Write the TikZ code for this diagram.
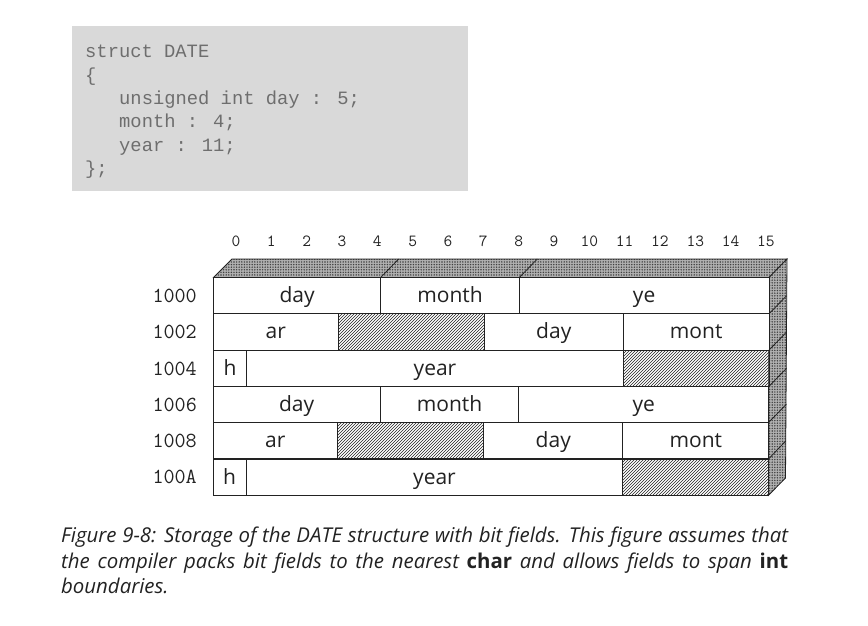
\documentclass[tikz,border=0pt]{standalone}
\usepackage{fontspec}
\setmainfont{Open Sans}
\usetikzlibrary{patterns,patterns.meta}

\definecolor{codebg}{HTML}{D9D9D9}
\definecolor{codefg}{HTML}{6E6E6E}
\definecolor{inkline}{HTML}{222222}
\definecolor{shadegray}{HTML}{B0B0B0}
\newfontfamily\codefont{Liberation Mono}

\begin{document}
\begin{tikzpicture}[x=1pt,y=-1pt,
                        codeline/.style={anchor=base west,inner sep=0pt,text=codefg,font=\codefont\fontsize{18.8}{19}\selectfont},
                        bitnum/.style={inner sep=0pt,text=inkline,font=\ttfamily\fontsize{17}{17}\selectfont},
                        addr/.style={anchor=base east,inner sep=0pt,text=inkline,font=\ttfamily\fontsize{21.5}{21.5}\selectfont},
                        cell/.style={draw=inkline,line width=0.8pt,anchor=north west,inner sep=0pt,outer sep=0pt,
                          fill=white,minimum height=36.3pt,text height=25pt,text depth=11.3pt,text=inkline,
                          font=\fontsize{21}{21}\selectfont},
                        unused/.style={cell,pattern=north east lines,pattern color=inkline},
                        shaded/.style={draw=inkline,line width=0.8pt,preaction={fill=shadegray},
                          pattern={Dots[distance=2.6pt,radius=0.8pt]},pattern color=black!75},
                        link/.style={draw=inkline,line width=0.8pt}]
      \useasboundingbox (0,0) rectangle (868,626);

      % the struct
      \node[fill=codebg,minimum width=396pt,minimum height=165pt,inner sep=0pt] (codebox) at (270,108.5) {};
      \node[codeline] (c1) at (85,58) {struct DATE};
      \node[codeline] (c2) at (85,81.3) {\{};
      \node[codeline] (c3) at (119,104.5) {unsigned int day : 5;};
      \node[codeline] (c4) at (119,128) {month : 4;};
      \node[codeline] (c5) at (119,151) {year : 11;};
      \node[codeline] (c6) at (85,174) {\};};

      % bit numbers
      \foreach \b in {0,...,15}
        \node[bitnum] (bit\b) at (236+\b*35.33,241) {\b};

      % addresses
      \node[addr] (a1) at (197,302) {1000};
      \node[addr] (a2) at (197,338) {1002};
      \node[addr] (a3) at (197,375) {1004};
      \node[addr] (a4) at (197,411) {1006};
      \node[addr] (a5) at (197,447) {1008};
      \node[addr] (a6) at (197,483) {100A};

      % faces of the block
      \coordinate (backl) at (232,259);
      \coordinate (backr) at (787,259);
      \coordinate (backb) at (785.5,478);
      \coordinate (frontl) at (213.5,277.5);
      \coordinate (frontr) at (769,277.5);
      \coordinate (frontb) at (768.5,495.3);
      \draw[shaded] (frontl) -- (backl) -- (backr) -- (frontr) -- cycle;
      \draw[shaded] (frontr) -- (backr) -- (backb) -- (frontb) -- cycle;

      % first int pair
      \node[cell,minimum width=167.2pt] (day1) at (213.5,277.5) {day};
      \node[cell,minimum width=138.6pt] (month1) at (380.7,277.5) {month};
      \node[cell,minimum width=249.7pt] (ye1) at (519.3,277.5) {ye};

      \node[cell,minimum width=124.5pt] (ar1) at (213.5,313.8) {ar};
      \node[unused,minimum width=146.3pt] (pad1) at (338,313.8) {};
      \node[cell,minimum width=139pt] (day2) at (484.3,313.8) {day};
      \node[cell,minimum width=145.7pt] (mont1) at (623.3,313.8) {mont};

      \node[cell,minimum width=33.2pt] (h1) at (213.5,350) {h};
      \node[cell,minimum width=376.6pt] (year1) at (246.7,350) {year};
      \node[unused,minimum width=145.7pt] (pad2) at (623.3,350) {};

      % second int pair
      \node[cell,minimum width=167.2pt] (day3) at (213,386) {day};
      \node[cell,minimum width=138.6pt] (month2) at (380.2,386) {month};
      \node[cell,minimum width=250pt] (ye2) at (518.8,386) {ye};

      \node[cell,minimum width=124.5pt] (ar2) at (213,422.5) {ar};
      \node[unused,minimum width=146.3pt] (pad3) at (337.5,422.5) {};
      \node[cell,minimum width=139pt] (day4) at (483.8,422.5) {day};
      \node[cell,minimum width=146pt] (mont2) at (622.8,422.5) {mont};

      \node[cell,minimum width=33.2pt] (h2) at (213,459) {h};
      \node[cell,minimum width=376.6pt] (year2) at (246.2,459) {year};
      \node[unused,minimum width=146pt] (pad4) at (622.8,459) {};

      % edges on the faces
      \draw[link] (day1.north east) -- ++(18,-18.5);
      \draw[link] (month1.north east) -- ++(18,-18.5);
      \draw[link] (ye1.south east) -- ++(17.5,-18);
      \draw[link] (mont1.south east) -- ++(17.5,-18);
      \draw[link] (pad2.south east) -- ++(17.5,-18);
      \draw[link] (ye2.south east) -- ++(17.5,-18);
      \draw[link] (mont2.south east) -- ++(17,-18);

      % caption
      \node[anchor=north west,inner sep=0pt,text width=727pt,align=justify,text=inkline,
            font=\fontsize{20.4}{25.5}\selectfont\itshape] (caption) at (61,527)
        {Figure 9-8: Storage of the DATE structure with bit fields. This figure assumes that\linebreak
         the compiler packs bit fields to the nearest {\upshape\bfseries char} and allows fields to span {\upshape\bfseries int}\linebreak
         boundaries.};
    \end{tikzpicture}
\end{document}
